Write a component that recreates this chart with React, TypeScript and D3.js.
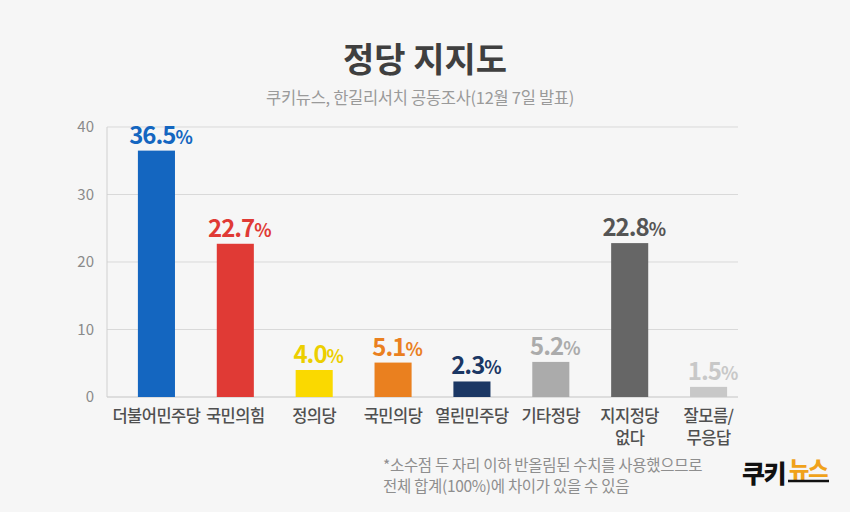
import React from "react";
import * as d3 from "d3";

const categories = ["더불어민주당", "국민의힘", "정의당", "국민의당", "열린민주당", "기타정당", "지지정당|없다", "잘모름/|무응답"];
const values = [36.5, 22.7, 4.0, 5.1, 2.3, 5.2, 22.8, 1.5];
const barColors = ["#1466c0", "#e03a35", "#fad900", "#ea801f", "#1b3764", "#ababab", "#666666", "#c8c8c8"];
const labelColors = ["#1466c0", "#e03a35", "#eccf00", "#ea801f", "#1b3764", "#ababab", "#555555", "#c8c8c8"];
const yTicks = [0, 10, 20, 30, 40];

const W = 850, H = 512;
const FONT = "'Noto Sans CJK KR', 'Noto Sans', sans-serif";

export default function App() {
  const x = d3.scaleBand<string>().domain(categories).range([117, 748]).paddingInner(0.53).paddingOuter(0.265);
  const y = d3.scaleLinear().domain([0, 40]).range([397, 127]);
  const gridX0 = 107, gridX1 = 738;

  return (
    <svg width={W} height={H} style={{ position: "absolute", left: 0, top: 0, background: "#f6f6f6" }} fontFamily={FONT}>
      <rect x={0} y={0} width={W} height={H} fill="#f6f6f6" />
      <text x={425} y={72} textAnchor="middle" fontSize={34} fontWeight={700} fill="#3f3f3f">정당 지지도</text>
      <text x={420} y={104} textAnchor="middle" fontSize={16.5} fill="#9a9a9a" letterSpacing={-0.3}>쿠키뉴스, 한길리서치 공동조사(12월 7일 발표)</text>

      {yTicks.map((t) => (
        <g key={t}>
          <line x1={gridX0} x2={gridX1} y1={y(t)} y2={y(t)} stroke={t === 0 ? "#c4c4c4" : "#d9d9d9"} strokeWidth={1} />
          <text x={94} y={y(t) + 5} textAnchor="end" fontSize={15} fill="#8a8a8a">{t}</text>
        </g>
      ))}
      <line x1={gridX0} x2={gridX0} y1={y(40)} y2={y(0)} stroke="#d0d0d0" strokeWidth={1} />

      {categories.map((c, i) => {
        const bx = x(c)!;
        const bw = x.bandwidth();
        const cx = bx + bw / 2;
        const lines = c.split("|");
        const parts = values[i].toFixed(1);
        return (
          <g key={c}>
            <rect x={bx} y={y(values[i])} width={bw} height={y(0) - y(values[i])} fill={barColors[i]} />
            <text x={cx + 4} y={y(values[i]) - 7} textAnchor="middle" fontWeight={700} fill={labelColors[i]} letterSpacing={-1}>
              <tspan fontSize={24}>{parts}</tspan>
              <tspan fontSize={18}>%</tspan>
            </text>
            {lines.map((l, j) => (
              <text key={j} x={cx} y={422 + j * 22} textAnchor="middle" fontSize={16.5} fontWeight={500} fill="#505050" letterSpacing={-0.5}>{l}</text>
            ))}
          </g>
        );
      })}

      <text x={383} y={471} fontSize={15.5} fill="#8e8e8e" letterSpacing={-0.3}>*소수점 두 자리 이하 반올림된 수치를 사용했으므로</text>
      <text x={383} y={492} fontSize={15.5} fill="#8e8e8e" letterSpacing={-0.3}>전체 합계(100%)에 차이가 있을 수 있음</text>

      <text x={742} y={483} fontSize={25} fontWeight={900} fill="#111" letterSpacing={-1.5}>쿠키</text>
      <text x={789} y={477} fontSize={22} fontWeight={900} fill="#f0a21b" letterSpacing={-1}>뉴스</text>
      <line x1={788} x2={829} y1={481} y2={481} stroke="#111" strokeWidth={2.5} />
    </svg>
  );
}
